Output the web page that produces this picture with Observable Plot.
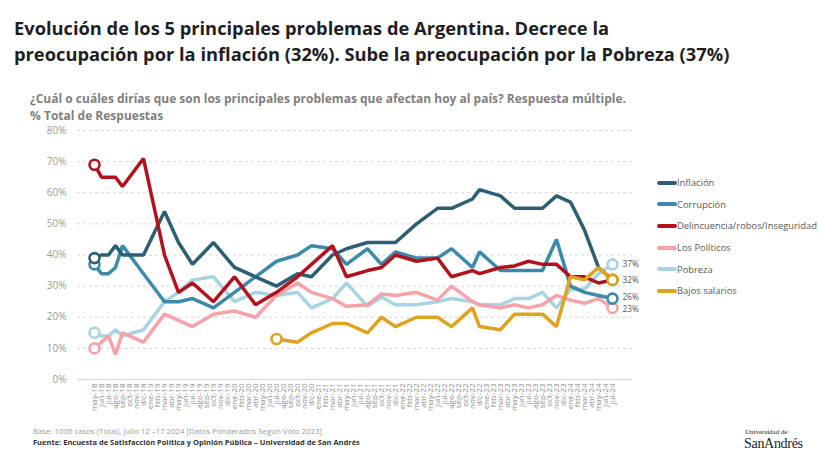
<!DOCTYPE html>
<html><head><meta charset="utf-8">
<script src="https://cdn.jsdelivr.net/npm/d3@7"></script>
<script src="https://cdn.jsdelivr.net/npm/@observablehq/plot@0.6"></script>
<style>
body{margin:0;background:#fff;font-family:"Open Sans",sans-serif;}
#wrap{position:relative;width:819px;height:460px;overflow:hidden;background:#fff;}
#chart{position:absolute;left:0;top:0;}
#title{position:absolute;left:14px;top:15px;font-size:18.3px;line-height:26px;font-weight:700;color:#1f1f1f;white-space:nowrap;}
#subtitle{position:absolute;left:30px;top:90px;font-size:12px;line-height:17px;font-weight:700;color:#7f7f7f;white-space:nowrap;}
#legend{position:absolute;left:657px;top:172px;font-size:9.4px;color:#595959;}
#legend .item{display:flex;align-items:center;height:21.6px;white-space:nowrap;}
#legend .sw{width:20px;height:4px;border-radius:2px;margin-right:0px;}
#base{position:absolute;left:33px;top:426px;font-size:7.8px;color:#9a9a9a;white-space:nowrap;}
#fuente{position:absolute;left:33px;top:437px;font-size:7.5px;font-weight:700;color:#333;white-space:nowrap;}
#logo1{position:absolute;left:745px;top:428px;font-family:"Liberation Serif",serif;font-size:7px;color:#222;}
#logo2{position:absolute;left:744px;top:436px;font-family:"Liberation Serif",serif;font-size:14px;color:#222;letter-spacing:-0.3px;}
</style></head><body>
<div id="wrap">
<div id="chart"></div>
<div id="title">Evolución de los 5 principales problemas de Argentina. Decrece la<br>preocupación por la inflación (32%). Sube la preocupación por la Pobreza (37%)</div>
<div id="subtitle">¿Cuál o cuáles dirías que son los principales problemas que afectan hoy al país? Respuesta múltiple.<br>% Total de Respuestas</div>
<div id="legend"></div>
<div id="base">Base: 1006 casos (Total), Julio 12 –17 2024 [Datos Ponderados Según Voto 2023]</div>
<div id="fuente">Fuente: Encuesta de Satisfacción Política y Opinión Pública – Universidad de San Andrés</div>
<div id="logo1">Universidad de</div>
<div id="logo2">SanAndrés</div>
</div>
<script>
const monthLabels = [
 "may-18","jun-18","jul-18","ago-18","sep-18","oct-18","nov-18","dic-18",
 "ene-19","feb-19","mar-19","abr-19","may-19","jun-19","jul-19","ago-19","sep-19","oct-19","nov-19","dic-19",
 "ene-20","feb-20","mar-20","abr-20","may-20","jun-20","jul-20","ago-20","sep-20","oct-20","nov-20","dic-20",
 "ene-21","feb-21","mar-21","abr-21","may-21","jun-21","jul-21","ago-21","sep-21","oct-21","nov-21","dic-21",
 "ene-22","feb-22","mar-22","abr-22","may-22","jun-22","jul-22","ago-22","sep-22","oct-22","nov-22","dic-22",
 "ene-23","feb-23","mar-23","abr-23","may-23","jun-23","jul-23","ago-23","sep-23","oct-23","nov-23","dic-23",
 "ene-24","feb-24","mar-24","abr-24","may-24","jun-24","jul-24"
];
const surveyMonths = [
 "may-18","jun-18","jul-18","ago-18","sep-18","dic-18","mar-19","may-19","jul-19","oct-19",
 "ene-20","abr-20","jul-20","oct-20","dic-20","mar-21","may-21","ago-21","oct-21","dic-21",
 "mar-22","jun-22","ago-22","nov-22","dic-22","mar-23","may-23","jul-23","sep-23","nov-23",
 "ene-24","mar-24","may-24","jul-24"
];
const inflacion    = [39,40,40,43,40,40,54,44,37,44,36,33,30,34,33,40,42,44,44,44,50,55,55,58,61,59,55,55,55,59,57,48,36,32];
const corrupcion   = [37,34,34,36,43,34,25,25,26,23,28,33,38,40,43,42,37,42,37,41,39,39,42,36,41,35,35,35,35,45,30,28,27,26];
const delincuencia = [69,65,65,65,62,71,40,28,31,25,33,24,28,33,37,43,33,35,36,40,38,39,33,35,34,36,36.5,38,37,37,33,33,31,32];
const politicos    = [10,12,14,8,15,12,21,19,17,21,22,20,27,31,28,26,23.5,24,27.5,27,28,25.5,30,25,24,23,24,23,24,27,25.5,24.5,26,23];
const pobreza      = [15,14,14,16,14,16,25,28,32,33,25,28,27,28,23,26,31,23.5,26.5,24,24,25,26,25,24,24,26,26,28,23,29,29,34,37];
const bajosSalarios= [null,null,null,null,null,null,null,null,null,null,null,null,13,12,15,18,18,15,20,17,20,20,17,23,17,16,21,21,21,17,33,32,36,32];
const yTicks = [0,10,20,30,40,50,60,70,80];

const seriesNames  = ["Inflación","Corrupción","Delincuencia/robos/Inseguridad","Los Políticos","Pobreza","Bajos salarios"];
const seriesColors = ["#2d5f74","#3b8aab","#b3121c","#f5a2a8","#a8d3e3","#dfa31d"];
const seriesValues = [inflacion, corrupcion, delincuencia, politicos, pobreza, bajosSalarios];
const drawOrder = ["Pobreza","Los Políticos","Corrupción","Inflación","Delincuencia/robos/Inseguridad","Bajos salarios"];
const labelled = ["Pobreza","Bajos salarios","Corrupción","Los Políticos"];
const labelNudge = [0, 0, -1.5, 1.5];

const rows = [];
seriesNames.forEach((name, s) => surveyMonths.forEach((m, j) => {
  const v = seriesValues[s][j];
  if (v != null) rows.push({serie: name, month: m, value: v});
}));
const firstPts = seriesNames.map(n => rows.find(d => d.serie === n));
const lastPts = seriesNames.map(n => rows.filter(d => d.serie === n).pop());
const endMarkerPts = drawOrder.filter(n => n !== "Delincuencia/robos/Inseguridad").map(n => lastPts[seriesNames.indexOf(n)]);
const startMarkerPts = drawOrder.map(n => firstPts[seriesNames.indexOf(n)]);
const labelPts = labelled.map(n => lastPts[seriesNames.indexOf(n)]);

const chart = Plot.plot({
  width: 819, height: 460,
  marginTop: 130, marginBottom: 81, marginLeft: 77, marginRight: 187,
  style: {fontFamily: "Open Sans, sans-serif", background: "transparent"},
  x: {type: "point", domain: monthLabels, padding: 0, insetLeft: 2.5, insetRight: 6.4},
  y: {domain: [0, 80]},
  color: {domain: seriesNames, range: seriesColors},
  marks: [
    Plot.ruleY(yTicks.filter(t => t > 0), {stroke: "#d6d6d6", strokeDasharray: "3,3", strokeWidth: 1}),
    Plot.ruleY([0], {stroke: "#d6d6d6", strokeWidth: 1}),
    Plot.axisY({ticks: yTicks, tickSize: 0, tickPadding: 11, tickFormat: d => d + "%", fontSize: 10, color: "#9a9a9a", label: null}),
    Plot.axisX({tickRotate: -90, tickSize: 0, tickPadding: 4, fontSize: 8, color: "#8c8c8c", label: null}),
    ...drawOrder.map(n => Plot.line(rows.filter(d => d.serie === n), {x: "month", y: "value", stroke: "serie", strokeWidth: 3.5, strokeLinejoin: "miter", strokeLinecap: "butt"})),
    Plot.dot(startMarkerPts, {x: "month", y: "value", stroke: "serie", fill: "white", r: 5, strokeWidth: 2.6}),
    Plot.dot(endMarkerPts, {x: "month", y: "value", stroke: "serie", fill: "white", r: 5, strokeWidth: 2.6}),
    ...labelPts.map((p, i) => Plot.text([p], {x: "month", y: "value", text: d => d.value + "%", dx: 10, dy: labelNudge[i], textAnchor: "start", fontSize: 8.3, fill: "#555"}))
  ]
});
document.getElementById("chart").appendChild(chart);

const legend = document.getElementById("legend");
seriesNames.forEach((n, i) => {
  const it = document.createElement("div");
  it.className = "item";
  it.innerHTML = `<span class="sw" style="background:${seriesColors[i]}"></span><span>${n}</span>`;
  legend.appendChild(it);
});
</script>
</body></html>
